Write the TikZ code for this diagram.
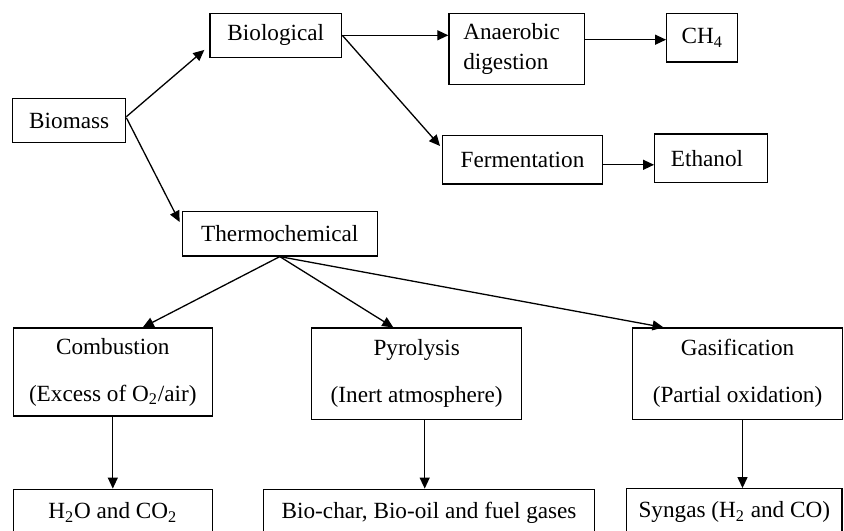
\documentclass[tikz,border=0pt]{standalone}
\usepackage{xcolor}
\usepackage{fontspec}
\setmainfont{Liberation Serif}
\usepackage{tikz}
\usetikzlibrary{arrows.meta}

\begin{document}
\begin{tikzpicture}[x=0.5pt, y=-0.5pt,
        box/.style={draw, line width=0.65pt, inner sep=0pt, align=center, font=\fontsize{11.6}{14.5}\selectfont},
        arr/.style={line width=0.65pt, -{Triangle[length=5.5pt,width=5pt]}}]
        \useasboundingbox (0,0) rectangle (844,530);
        \node[box, minimum width=56.5pt, minimum height=22pt] (biomass) at (69.2,120.7) {Biomass};
        \node[box, minimum width=65.85pt, minimum height=22pt] (biological) at (275.8,35.3) {Biological};
        \node[box, minimum width=97.5pt, minimum height=22.15pt] (thermo) at (279.8,233.8) {Thermochemical};
        \node[box, minimum width=67.85pt, minimum height=35.5pt, text width=53.5pt, align=left] (anaerobic) at (516.8,48.8) {Anaerobic\\[0.5pt]digestion};
        \node[box, minimum width=35.5pt, minimum height=24.35pt] (methane) at (702.2,37.7) {CH\textsubscript{4}};
        \node[box, minimum width=79.8pt, minimum height=24.15pt] (fermentation) at (522.5,159.8) {Fermentation};
        \node[box, minimum width=56.3pt, minimum height=24.35pt] (ethanol) at (711,158.3) {Ethanol\hspace{4pt}};
        \node[box, minimum width=99.5pt, minimum height=44pt] (combustion) at (112.8,372) {Combustion\\[9pt](Excess of O\textsubscript{2}/air)};
        \node[box, minimum width=105pt, minimum height=45.65pt] (pyrolysis) at (416.7,373.7) {Pyrolysis\\[9pt](Inert atmosphere)};
        \node[box, minimum width=104.8pt, minimum height=45.65pt] (gasification) at (737.5,373.7) {Gasification\\[9pt](Partial oxidation)};
        \node[box, minimum width=99.5pt, minimum height=23.5pt] (water) at (112.8,512.7) {H\textsubscript{2}O and CO\textsubscript{2}};
        \node[box, minimum width=165.4pt, minimum height=23.5pt] (biochar) at (429.1,512.7) {Bio-char, Bio-oil and fuel gases};
        \node[box, minimum width=107.65pt, minimum height=23.5pt] (syngas) at (734.3,512.2) {Syngas (H\textsubscript{2} and CO)};
        \draw[arr] ([yshift=2pt]biomass.east) -- ([xshift=-2.5pt,yshift=4pt]biological.south west);
        \draw[arr] ([yshift=1.5pt]biomass.east) -- ([xshift=-1pt,yshift=-5.5pt]thermo.north west);
        \draw[arr] (biological.east) -- (biological.east -| anaerobic.west);
        \draw[arr] (biological.east) -- ([xshift=-1pt,yshift=-5.5pt]fermentation.north west);
        \draw[arr] ([yshift=-1pt]anaerobic.east |- methane.west) -- ([yshift=-1pt]methane.west);
        \draw[arr] ([yshift=-2.5pt]fermentation.east) -- ([yshift=-2.5pt]fermentation.east -| ethanol.west);
        \draw[arr] (thermo.south) -- ([xshift=15pt]combustion.north);
        \draw[arr] (thermo.south) -- ([xshift=-11.7pt]pyrolysis.north);
        \draw[arr] (thermo.south) -- ([xshift=-37pt]gasification.north);
        \draw[arr] (combustion.south) -- (water.north);
        \draw[arr] ([xshift=4pt]pyrolysis.south) -- ([xshift=4pt]pyrolysis.south |- biochar.north);
        \draw[arr] ([xshift=2.5pt]gasification.south) -- ([xshift=2.5pt]gasification.south |- syngas.north);
    \end{tikzpicture}
\end{document}
